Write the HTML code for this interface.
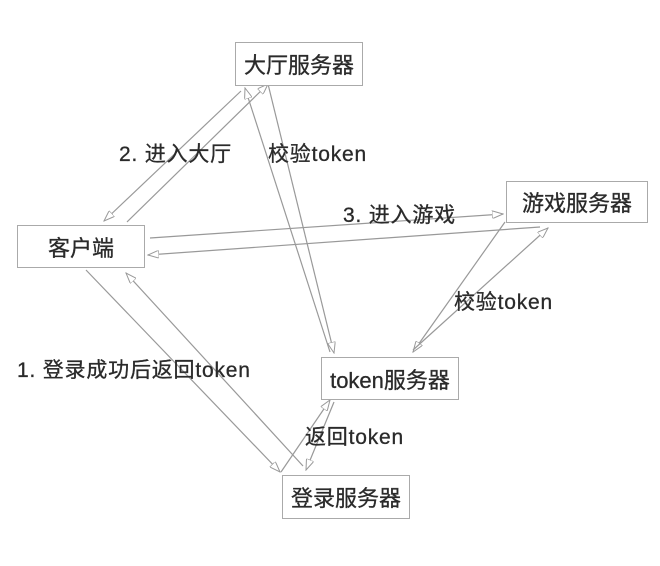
<!DOCTYPE html>
<html><head><meta charset="utf-8"><style>
html,body{margin:0;padding:0;background:#fff;}
body{width:660px;height:566px;position:relative;overflow:hidden;font-family:"Liberation Sans","Noto Sans CJK SC",sans-serif;color:#2a2a2a;}
.b{position:absolute;border:1.5px solid #aaa;background:#fff;box-sizing:border-box;font-size:22px;display:flex;align-items:center;justify-content:center;white-space:nowrap;-webkit-text-stroke:0.3px #2a2a2a;}
.t{position:absolute;font-size:21px;letter-spacing:0.8px;white-space:nowrap;line-height:1;-webkit-text-stroke:0.3px #2a2a2a;}
svg{position:absolute;left:0;top:0;}
</style></head><body>
<svg width="660" height="566">
<defs><marker id="a" markerWidth="12" markerHeight="8" refX="11" refY="4" orient="auto" markerUnits="userSpaceOnUse"><path d="M0,0 L11,4 L0,8 Z" fill="#fff" stroke="#999" stroke-width="1"/></marker></defs>
<g stroke="#999" stroke-width="1.2" fill="none" marker-end="url(#a)">
<line x1="241" y1="91" x2="104" y2="221"/>
<line x1="127" y1="222" x2="268" y2="84"/>
<line x1="330" y1="352" x2="245" y2="88"/>
<line x1="268" y1="84" x2="334" y2="353"/>
<line x1="150" y1="238" x2="503" y2="214"/>
<line x1="540" y1="227" x2="148" y2="255"/>
<line x1="505" y1="222" x2="413" y2="352"/>
<line x1="413" y1="350" x2="548" y2="228"/>
<line x1="86" y1="270" x2="280" y2="472"/>
<line x1="303" y1="466" x2="126" y2="273"/>
<line x1="281" y1="472" x2="330" y2="400"/>
<line x1="334" y1="402" x2="306" y2="470"/>
</g>
</svg>
<div class="b" style="left:235px;top:42px;width:128px;height:44px;">大厅服务器</div>
<div class="b" style="left:17px;top:225px;width:128px;height:43px;">客户端</div>
<div class="b" style="left:506px;top:181px;width:142px;height:42px;">游戏服务器</div>
<div class="b" style="left:321px;top:357px;width:138px;height:43px;">token服务器</div>
<div class="b" style="left:282px;top:475px;width:128px;height:44px;">登录服务器</div>
<div class="t" style="left:119px;top:144px;">2. 进入大厅</div>
<div class="t" style="left:268px;top:144px;">校验token</div>
<div class="t" style="left:343px;top:205px;">3. 进入游戏</div>
<div class="t" style="left:454px;top:292px;">校验token</div>
<div class="t" style="left:17px;top:360px;">1. 登录成功后返回token</div>
<div class="t" style="left:305px;top:427px;">返回token</div>
</body></html>
